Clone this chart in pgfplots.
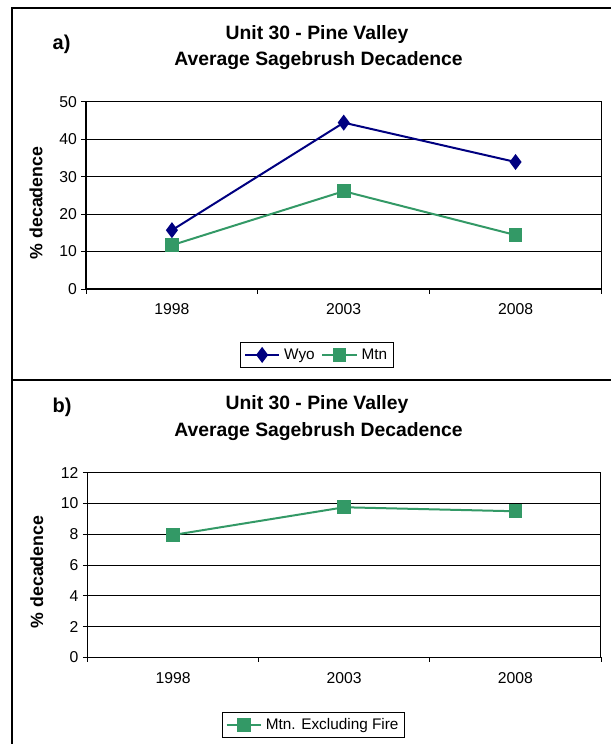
\documentclass[border=0pt]{standalone}
\usepackage{fontspec}
\setmainfont{Liberation Sans}
\usepackage{pgfplots}
\pgfplotsset{compat=1.18}
\definecolor{wyo}{RGB}{0,0,128}
\definecolor{mtn}{RGB}{51,153,102}

\pgfplotsset{
  excelaxis/.style={
    scale only axis,
    axis line style={black, line width=0.8pt},
    xmin=0.5, xmax=3.5,
    ymin=0,
    xtick={0.5,1.5,2.5,3.5},
    xticklabels={},
    extra x ticks={1,2,3},
    extra x tick labels={1998,2003,2008},
    extra x tick style={major tick length=0pt, xticklabel style={yshift=-7.5pt}},
    tick align=outside,
    major tick length=3.4pt,
    tick style={black, line width=0.6pt},
    xtick pos=bottom, ytick pos=left,
    ymajorgrids,
    major grid style={black, line width=0.55pt},
    /pgf/number format/assume math mode=true,
    tick label style={font=\fontsize{11.8}{14}\selectfont},
    ylabel={\textbf{\% decadence}},
    ylabel style={font=\fontsize{13.3}{15}\selectfont, anchor=center},
    legend columns=-1,
    legend style={draw=black, line width=0.6pt, font=\fontsize{11.5}{13}\selectfont,
      anchor=center, inner sep=2.5pt, column sep=1pt,
      /tikz/every even column/.append style={column sep=3pt}},
    legend image code/.code={
      \draw[mark repeat=2, mark phase=2] plot coordinates {(0cm,0cm) (0.45cm,0cm) (0.9cm,0cm)};
    },
  }
}

\begin{document}
\begin{tikzpicture}[x=0.75pt, y=-0.75pt]
\useasboundingbox (0,0) rectangle (611,744);
\coordinate (pa) at (86,289);
\coordinate (pb) at (87.5,657.3);

% panel frames
\draw[line width=1.2pt] (12,760) -- (12,8) -- (625,8);
\draw[line width=1.2pt] (12,380) -- (625,380);

% panel a
\node[anchor=base west, font=\bfseries\fontsize{15}{17}\selectfont] at (48,49) {a)};
\node[anchor=base, font=\bfseries\fontsize{14.5}{17}\selectfont] at (317,39.3) {Unit 30 - Pine Valley};
\node[anchor=base, font=\bfseries\fontsize{14.5}{17}\selectfont] at (318.5,65) {Average Sagebrush Decadence};

\begin{axis}[excelaxis,
  at={(pa)}, anchor=south west,
  width=386.6pt, height=140.5pt,
  ymax=50, ytick={0,10,20,30,40,50},
  ylabel style={at={(axis description cs:-0.097,0.459)}},
  legend style={at={(axis description cs:0.448,-0.352)}},
]
\addplot[wyo, line width=1.5pt, mark=diamond*, mark size=4.8pt, mark options={solid}]
  coordinates {(1,15.7) (2,44.4) (3,33.9)};
\addlegendentry{Wyo}
\addplot[mtn, line width=1.5pt, mark=square*, mark size=4.4pt, mark options={solid}]
  coordinates {(1,11.7) (2,26.1) (3,14.4)};
\addlegendentry{Mtn}
\end{axis}

% panel b
\node[anchor=base west, font=\bfseries\fontsize{15}{17}\selectfont] at (48,412.5) {b)};
\node[anchor=base, font=\bfseries\fontsize{14.5}{17}\selectfont] at (317,409) {Unit 30 - Pine Valley};
\node[anchor=base, font=\bfseries\fontsize{14.5}{17}\selectfont] at (318.5,436) {Average Sagebrush Decadence};

\begin{axis}[excelaxis,
  at={(pb)}, anchor=south west,
  width=385.1pt, height=138.5pt,
  ymax=12, ytick={0,2,4,6,8,10,12},
  ylabel style={at={(axis description cs:-0.099,0.462)}},
  legend style={at={(axis description cs:0.440,-0.367)}},
]
\addplot[mtn, line width=1.5pt, mark=square*, mark size=4.4pt, mark options={solid}]
  coordinates {(1,7.95) (2,9.75) (3,9.49)};
\addlegendentry{Mtn. Excluding Fire}
\end{axis}
\end{tikzpicture}
\end{document}
